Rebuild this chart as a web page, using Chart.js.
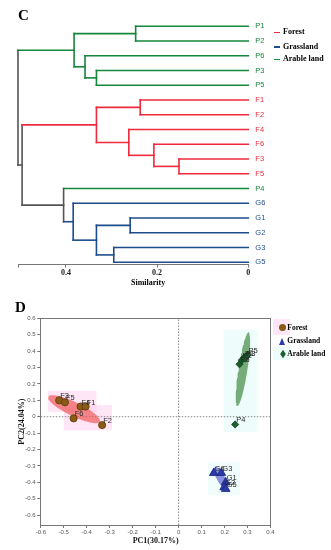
<!DOCTYPE html>
<html>
<head>
<meta charset="utf-8">
<script src="https://cdn.jsdelivr.net/npm/chart.js@4.4.0/dist/chart.umd.min.js"></script>
<style>
    body { margin: 0; background: #fff; }
    #wrap { position: relative; width: 331px; height: 550px; overflow: hidden; background: #fff; }
    canvas { position: absolute; left: 0; }
    .t { position: absolute; font-family: "Liberation Serif", "Times New Roman", serif; font-weight: bold; color: #000; white-space: nowrap; line-height: 1; }
    .dash { position: absolute; width: 6px; height: 1.6px; }
    .mk { position: absolute; }
</style>
</head>
<body>
<div id="wrap">
    <canvas id="dendro" width="331" height="300" style="top:0"></canvas>
    <canvas id="pca" width="331" height="255" style="top:295px"></canvas>

    <div class="t" style="left:18px;top:7.5px;font-size:15px">C</div>
    <div class="t" style="left:15px;top:299.5px;font-size:15px">D</div>
    <div class="t" style="left:131px;top:279px;font-size:8px">Similarity</div>

    <!-- 덴드로그램 범례 -->
    <div class="dash" style="left:273.5px;top:31.6px;background:#ee2a3c"></div>
    <div class="t" style="left:283px;top:28.3px;font-size:8px">Forest</div>
    <div class="dash" style="left:273.5px;top:46px;background:#1e4d8c"></div>
    <div class="t" style="left:283px;top:42.7px;font-size:8px">Grassland</div>
    <div class="dash" style="left:273.5px;top:58.6px;background:#15873a"></div>
    <div class="t" style="left:283px;top:55.3px;font-size:8px">Arable land</div>

    <!-- PCA 범례 -->
    <div class="mk" style="left:273px;top:319px;width:17px;height:16px;background:rgba(255,200,235,0.45)"></div>
    <div class="mk" style="left:273px;top:347px;width:17px;height:13px;background:rgba(200,250,245,0.35)"></div>
    <div class="mk" style="left:279.2px;top:324.2px;width:7px;height:7px;border-radius:50%;background:#8b5a16"></div>
    <div class="t" style="left:287.3px;top:324px;font-size:7.5px">Forest</div>
    <div class="mk" style="left:279px;top:337.5px;width:0;height:0;border-left:3.7px solid transparent;border-right:3.7px solid transparent;border-bottom:7px solid #2b3aa8"></div>
    <div class="t" style="left:287.3px;top:337.3px;font-size:7.5px">Grassland</div>
    <div class="mk" style="left:280.6px;top:351.5px;width:4px;height:4px;background:#1e5e2e;transform:scaleY(1.5) rotate(45deg)"></div>
    <div class="t" style="left:287.3px;top:350px;font-size:7.5px">Arable land</div>
</div>

<script>
// 덴드로그램 잎 순서 (위에서 아래로)
const leafNames = ['P1', 'P2', 'P6', 'P3', 'P5', 'F1', 'F2', 'F4', 'F6', 'F3', 'F5', 'P4', 'G6', 'G1', 'G2', 'G3', 'G5'];

// 병합 순서: [왼쪽, 오른쪽, 유사도] ('m' + 번호 = 앞의 병합 결과)
const merges = [
    ['P1', 'P2', 0.247],   // m0
    ['P3', 'P5', 0.333],   // m1
    ['P6', 'm1', 0.358],   // m2
    ['m0', 'm2', 0.382],   // m3
    ['F1', 'F2', 0.237],   // m4
    ['F3', 'F5', 0.152],   // m5
    ['F6', 'm5', 0.207],   // m6
    ['F4', 'm6', 0.262],   // m7
    ['m4', 'm7', 0.333],   // m8
    ['G1', 'G2', 0.259],   // m9
    ['G3', 'G5', 0.295],   // m10
    ['m9', 'm10', 0.333],  // m11
    ['G6', 'm11', 0.384],  // m12
    ['P4', 'm12', 0.405],  // m13
    ['m8', 'm13', 0.496],  // m14
    ['m3', 'm14', 0.505]   // m15
];

// X축 눈금 (유사도)
const similarityTicks = [0.505, 0.4, 0.2, 0];

// PCA 점수
const forestNames = ['F3', 'F5', 'F4', 'F1', 'F6', 'F2'];
const forestPC1 = [-0.52, -0.495, -0.427, -0.405, -0.457, -0.333];
const forestPC2 = [0.10, 0.088, 0.062, 0.062, -0.01, -0.051];

const grassNames = ['G6', 'G3', 'G1', 'G2', 'G5'];
const grassPC1 = [0.153, 0.186, 0.205, 0.198, 0.205];
const grassPC2 = [-0.343, -0.343, -0.40, -0.43, -0.44];

const arableNames = ['P6', 'P2', 'P1', 'P3', 'P5', 'P4'];
const arablePC1 = [0.265, 0.275, 0.285, 0.29, 0.30, 0.246];
const arablePC2 = [0.32, 0.345, 0.36, 0.355, 0.375, -0.047];

// 신뢰 타원: [중심 PC1, 중심 PC2, 장축 PC1, 장축 PC2, 단축 PC1, 단축 PC2]
const forestEllipse = [-0.455, 0.046, 0.1127, -0.0762, 0.0132, 0.0384];
const arableEllipse = [0.280, 0.290, 0.0246, 0.2247, 0.0194, -0.0042];
const grassEllipse = [0.184, -0.374, 0.026, -0.070, 0.0155, 0.0113];

// 배경 영역: [PC1 시작, PC1 끝, PC2 위, PC2 아래]
const forestBoxes = [[-0.57, -0.357, 0.158, 0.029], [-0.5, -0.29, 0.072, -0.082]];
const arableBoxes = [[0.196, 0.343, 0.53, -0.094]];
const grassBoxes = [[0.128, 0.267, -0.277, -0.478]];

// PCA 축 눈금
const pc1Ticks = [-0.6, -0.5, -0.4, -0.3, -0.2, -0.1, 0, 0.1, 0.2, 0.3, 0.4];
const pc2Ticks = [0.6, 0.5, 0.4, 0.3, 0.2, 0.1, 0, -0.1, -0.2, -0.3, -0.4, -0.5, -0.6];
const pc1Range = [-0.6, 0.4];
const pc2Range = [-0.66, 0.6];

// 색상
const groupColors = { F: '#ee2a3c', G: '#1e4d8c', P: '#15873a' };
const mixedColor = '#555555';

// ---------- 덴드로그램 ----------
const nodes = {};
leafNames.forEach((n, i) => { nodes[n] = { y: i, h: 0, g: n[0] }; });
merges.forEach(([a, b, h], k) => {
    const A = nodes[a], B = nodes[b];
    nodes['m' + k] = { y: (A.y + B.y) / 2, h: h, g: A.g === B.g ? A.g : null };
});

const segments = [];
function seg(p, q, g) {
    segments.push({ data: [p, q], borderColor: g ? groupColors[g] : mixedColor });
}
merges.forEach(([a, b, h], k) => {
    const A = nodes[a], B = nodes[b], M = nodes['m' + k];
    seg({ x: A.h, y: A.y }, { x: h, y: A.y }, A.g);
    seg({ x: B.h, y: B.y }, { x: h, y: B.y }, B.g);
    seg({ x: h, y: A.y }, { x: h, y: B.y }, M.g);
});

new Chart(document.getElementById('dendro'), {
    type: 'line',
    data: { datasets: segments },
    options: {
        responsive: false,
        animation: false,
        layout: { padding: { left: 18, right: 52.7, top: 10.9, bottom: 0 } },
        plugins: { legend: { display: false }, tooltip: { enabled: false } },
        datasets: { line: { clip: false } },
        elements: {
            point: { radius: 0 },
            line: { borderWidth: 1.6, borderCapStyle: 'square', tension: 0 }
        },
        scales: {
            x: {
                type: 'linear', reverse: true, min: 0, max: 0.505,
                afterBuildTicks: s => { s.ticks = similarityTicks.map(v => ({ value: v })); },
                afterFit: s => { s.height = 35.5; },
                grid: { display: true, drawOnChartArea: false, drawTicks: true, tickLength: 3, tickColor: '#777' },
                border: { display: true, color: '#777', width: 1 },
                ticks: {
                    autoSkip: false, maxRotation: 0, padding: 1, color: '#222',
                    font: { family: 'Liberation Serif', size: 8, weight: 'bold' },
                    callback: v => v > 0.5 ? '' : String(v)
                }
            },
            y: {
                type: 'linear', position: 'right', reverse: true, min: -1, max: 16.15,
                afterBuildTicks: s => { s.ticks = leafNames.map((_, i) => ({ value: i })); },
                afterFit: s => { s.width = 30; },
                grid: { display: false, drawTicks: false },
                border: { display: false },
                ticks: {
                    autoSkip: false, padding: 7,
                    font: { family: 'Liberation Sans', size: 7.5 },
                    color: c => groupColors[leafNames[c.tick.value][0]],
                    callback: v => leafNames[v]
                }
            }
        }
    }
});

// ---------- PCA ----------
function ellipsePoints(e) {
    const [cx, cy, ux, uy, vx, vy] = e;
    const pts = [];
    for (let k = 0; k <= 72; k++) {
        const t = k / 72 * 2 * Math.PI;
        pts.push({ x: cx + ux * Math.cos(t) + vx * Math.sin(t), y: cy + uy * Math.cos(t) + vy * Math.sin(t) });
    }
    return pts;
}
function boxPoints(r) {
    const [x1, x2, y1, y2] = r;
    return [{ x: x1, y: y1 }, { x: x2, y: y1 }, { x: x2, y: y2 }, { x: x1, y: y2 }, { x: x1, y: y1 }];
}
function toPoints(xs, ys) { return xs.map((x, i) => ({ x: x, y: ys[i] })); }

const shape = (pts, color, order) => ({
    data: pts, showLine: true, fill: 'shape', backgroundColor: color,
    borderWidth: 0, pointRadius: 0, order: order
});

const pcaSets = [
    {
        data: toPoints(forestPC1, forestPC2), names: forestNames, showLine: false,
        pointStyle: 'circle', pointRadius: 3.6, backgroundColor: '#8b5a16', borderColor: '#5c3a0a', borderWidth: 0.8, order: 0
    },
    {
        data: toPoints(grassPC1, grassPC2), names: grassNames, showLine: false,
        pointStyle: 'triangle', pointRadius: 5, backgroundColor: '#2b3aa8', borderColor: '#1a2280', borderWidth: 0.8, order: 0
    },
    {
        data: toPoints(arablePC1, arablePC2), names: arableNames, showLine: false,
        pointStyle: 'rectRot', pointRadius: 3.6, backgroundColor: '#1e5e2e', borderColor: '#123d1c', borderWidth: 0.8, order: 0
    },
    shape(ellipsePoints(forestEllipse), 'rgba(240,90,90,0.7)', 2),
    shape(ellipsePoints(arableEllipse), 'rgba(70,140,70,0.72)', 2),
    shape(ellipsePoints(grassEllipse), 'rgba(100,110,210,0.75)', 2),
    ...forestBoxes.map(b => shape(boxPoints(b), 'rgba(255,200,235,0.45)', 4)),
    ...arableBoxes.map(b => shape(boxPoints(b), 'rgba(200,250,245,0.3)', 4)),
    ...grassBoxes.map(b => shape(boxPoints(b), 'rgba(210,245,250,0.3)', 4)),
    // 0 기준 점선
    {
        data: [{ x: 0, y: pc2Range[0] }, { x: 0, y: pc2Range[1] }], showLine: true, borderColor: '#888',
        borderWidth: 1, borderDash: [1.5, 1.5], pointRadius: 0, order: 3
    },
    {
        data: [{ x: pc1Range[0], y: 0 }, { x: pc1Range[1], y: 0 }], showLine: true, borderColor: '#888',
        borderWidth: 1, borderDash: [1.5, 1.5], pointRadius: 0, order: 3
    }
];

// 점 이름 표시
const pointNames = {
    id: 'pointNames',
    afterDatasetsDraw(chart) {
        const ctx = chart.ctx;
        ctx.save();
        ctx.font = '7.5px "Liberation Sans", Arial, sans-serif';
        ctx.fillStyle = '#2a2a2a';
        chart.data.datasets.forEach((ds, i) => {
            if (!ds.names) return;
            chart.getDatasetMeta(i).data.forEach((pt, j) => {
                ctx.fillText(ds.names[j], pt.x + 1, pt.y - 2);
            });
        });
        ctx.restore();
    }
};

const fmt = v => v === 0 ? '0' : v.toFixed(1);
const tickFont = { family: 'Liberation Sans', size: 6 };

new Chart(document.getElementById('pca'), {
    type: 'line',
    data: { datasets: pcaSets },
    plugins: [pointNames],
    options: {
        responsive: false,
        animation: false,
        layout: { padding: { left: 0, right: 60.5, top: 23.3, bottom: 0 } },
        plugins: { legend: { display: false }, tooltip: { enabled: false } },
        elements: { line: { tension: 0 } },
        scales: {
            x: {
                type: 'linear', min: pc1Range[0], max: pc1Range[1],
                afterBuildTicks: s => { s.ticks = pc1Ticks.map(v => ({ value: v })); },
                afterFit: s => { s.height = 25; },
                grid: { drawOnChartArea: false, tickLength: 3, tickColor: '#777' },
                border: { color: '#777' },
                ticks: { autoSkip: false, maxRotation: 0, padding: 1, color: '#555', font: tickFont, callback: fmt },
                title: {
                    display: true, text: 'PC1(30.17%)', color: '#111', padding: { top: 0, bottom: 4.2 },
                    font: { family: 'Liberation Serif', size: 8, weight: 'bold' }
                }
            },
            y: {
                type: 'linear', min: pc2Range[0], max: pc2Range[1],
                afterBuildTicks: s => { s.ticks = pc2Ticks.map(v => ({ value: v })); },
                afterFit: s => { s.width = 40.8; },
                grid: { drawOnChartArea: false, tickLength: 3.5, tickColor: '#777' },
                border: { color: '#777' },
                ticks: { autoSkip: false, padding: 1.8, color: '#555', font: tickFont, callback: fmt },
                title: {
                    display: true, text: 'PC2(24.04%)', color: '#111', padding: { top: 17.2, bottom: 0 },
                    font: { family: 'Liberation Serif', size: 8, weight: 'bold' }
                }
            },
            x2: {
                type: 'linear', position: 'top', min: pc1Range[0], max: pc1Range[1],
                afterFit: s => { s.height = 0; },
                ticks: { display: false }, grid: { display: false }, border: { color: '#777' }
            },
            y2: {
                type: 'linear', position: 'right', min: pc2Range[0], max: pc2Range[1],
                afterFit: s => { s.width = 0; },
                ticks: { display: false }, grid: { display: false }, border: { color: '#777' }
            }
        }
    }
});
</script>
</body>
</html>
